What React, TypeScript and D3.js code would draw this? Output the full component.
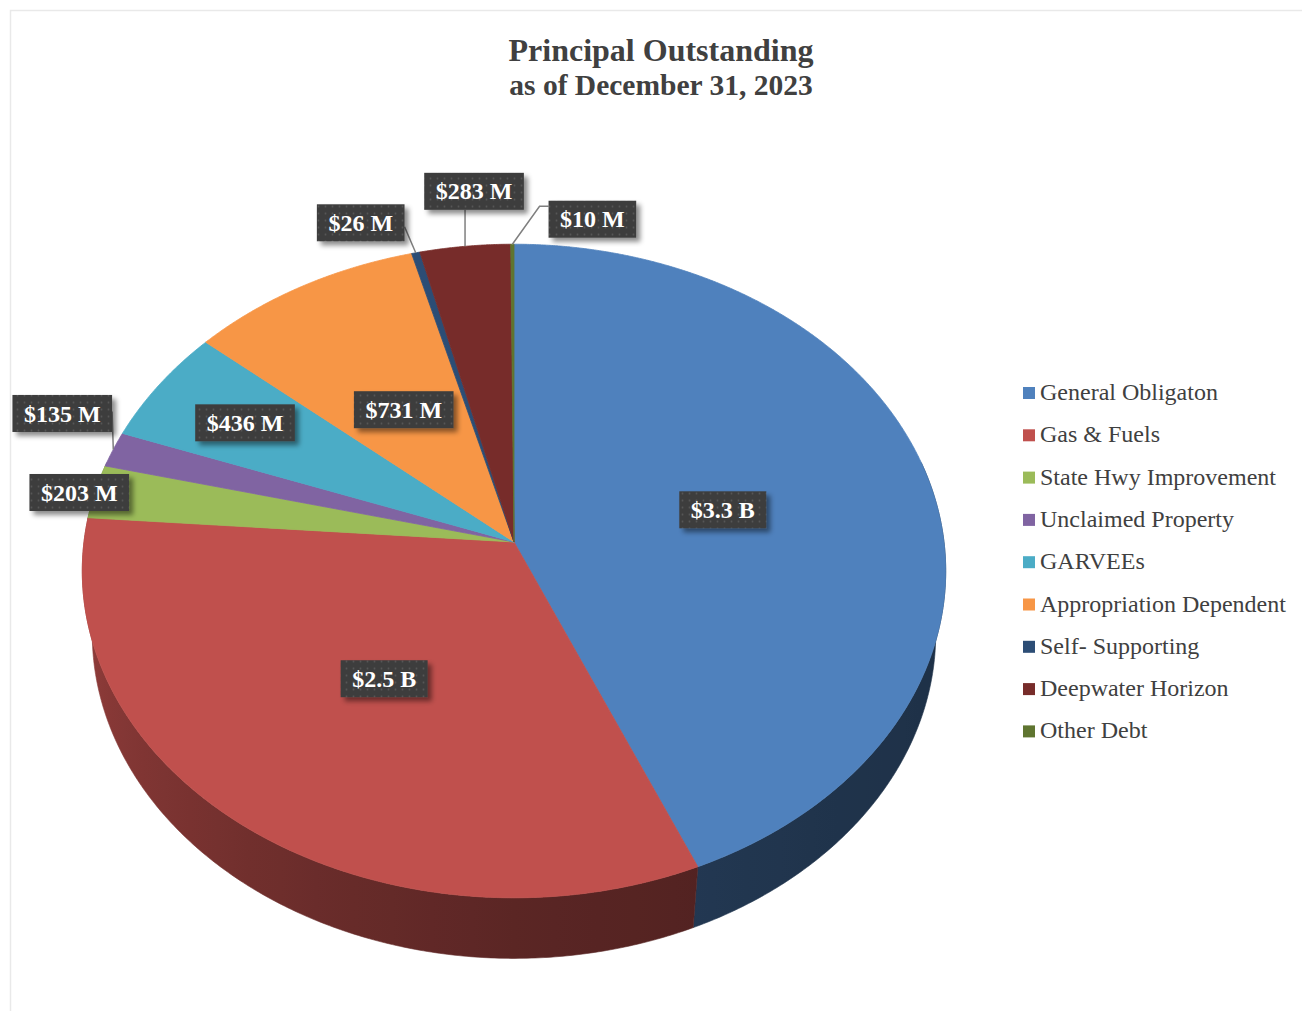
import React, { useEffect, useRef } from 'react';
import * as d3 from 'd3';

const categories = [
  'General Obligaton',
  'Gas & Fuels',
  'State Hwy Improvement',
  'Unclaimed Property',
  'GARVEEs',
  'Appropriation Dependent',
  'Self- Supporting',
  'Deepwater Horizon',
  'Other Debt',
];
// principal outstanding, $ millions
const amounts = [3340, 2500, 203, 135, 436, 731, 26, 283, 10];
const amountLabels = ['$3.3 B', '$2.5 B', '$203 M', '$135 M', '$436 M', '$731 M', '$26 M', '$283 M', '$10 M'];
const colors = ['#4F81BD', '#C0504D', '#9BBB59', '#8064A2', '#4BACC6', '#F79646', '#2C4D75', '#772C2A', '#5F7530'];
const titleLines = ['Principal Outstanding', 'as of December 31, 2023'];

// where each data label goes: inside ones at a fraction of the radius,
// outside ones offset from the rim point with a leader line
const labelPlacement: any[] = [
  { r: 0.5 },
  { r: 0.5 },
  { dx: -16, dy: 1 },
  { dx: -51, dy: -36, side: 'right', ay: -2, elbow: 0 },
  { r: 0.75 },
  { r: 0.5 },
  { dx: -55, dy: -30, side: 'right', ay: 4, elbow: 0 },
  { dx: 9, dy: -55, side: 'bottom' },
  { dx: 80, dy: -25, side: 'left', ay: -13, elbow: 9 },
];

const W = 1302, H = 1011;
const FONT = '"Liberation Serif", "Times New Roman", serif';

// 3d pie: perspective projection of a tilted disc
const cx = 514, cy = 542;
const focal = 3182, dist = 7.4, elev = Math.asin(0.754), thick = 0.23;

function project(theta: number, r: number, z: number): [number, number] {
  const u = r * Math.sin(theta), w = r * Math.cos(theta);
  const yc = w * Math.sin(elev) + z * Math.cos(elev);
  const zc = dist + w * Math.cos(elev) - z * Math.sin(elev);
  return [cx + (focal * u) / zc, cy - (focal * yc) / zc];
}

export default function App() {
  const ref = useRef<SVGSVGElement>(null);

  useEffect(() => {
    const svg = d3.select(ref.current);
    svg.selectAll('*').remove();

    const defs = svg.append('defs');
    const pat = defs.append('pattern').attr('id', 'dots').attr('width', 7).attr('height', 7)
      .attr('patternUnits', 'userSpaceOnUse');
    pat.append('rect').attr('width', 7).attr('height', 7).attr('fill', '#3d3d3d');
    pat.append('circle').attr('cx', 3.5).attr('cy', 3.5).attr('r', 0.9).attr('fill', '#565656');
    const filt = defs.append('filter').attr('id', 'shadow').attr('x', '-20%').attr('y', '-30%')
      .attr('width', '150%').attr('height', '180%');
    filt.append('feDropShadow').attr('dx', 4).attr('dy', 4).attr('stdDeviation', 2.5)
      .attr('flood-color', '#000').attr('flood-opacity', 0.45);

    // chart area border (left and top edges visible)
    svg.append('path').attr('d', `M10.5,${H} V10.5 H${W}`)
      .attr('fill', 'none').attr('stroke', '#e9e9e9').attr('stroke-width', 1.5);

    // title
    svg.append('g').selectAll('text').data(titleLines).join('text')
      .attr('x', 661).attr('y', (d, i) => 61 + i * 34)
      .attr('text-anchor', 'middle')
      .style('font-family', FONT).style('font-weight', 'bold')
      .style('font-size', (d, i) => (i === 0 ? '32px' : '29.5px'))
      .attr('fill', '#404040').text(d => d);

    const pie = d3.pie<number>().sort(null).value(d => d);
    const arcs = pie(amounts);

    // side walls: one path per slice, shaded with a horizontal gradient by facing angle
    const shade = d3.scaleLinear().domain([90, 135, 180, 225, 270]).range([2.8, 2.6, 2.1, 1.3, 0.6]).clamp(true);
    const front0 = Math.acos(0.25), front1 = 2 * Math.PI - front0;
    const xLeft = project(1.5 * Math.PI, 1, 0)[0], xRight = project(0.5 * Math.PI, 1, 0)[0];
    const walls = svg.append('g');
    arcs.forEach((a, i) => {
      const s = Math.max(a.startAngle, front0), e = Math.min(a.endAngle, front1);
      if (e <= s) return;
      const grad = defs.append('linearGradient').attr('id', `wall${i}`)
        .attr('gradientUnits', 'userSpaceOnUse')
        .attr('x1', xLeft).attr('x2', xRight).attr('y1', 0).attr('y2', 0);
      d3.range(270, 89, -5).forEach(deg => {
        const x = project((deg * Math.PI) / 180, 1, 0)[0];
        grad.append('stop').attr('offset', (x - xLeft) / (xRight - xLeft))
          .attr('stop-color', d3.color(colors[i])!.darker(shade(deg)).formatHex());
      });
      const n = Math.max(2, Math.ceil((e - s) / (Math.PI / 360)));
      const ts = d3.range(n + 1).map(k => s + ((e - s) * k) / n);
      const pts = [...ts.map(t => project(t, 1, 0)), ...ts.slice().reverse().map(t => project(t, 1, -thick))];
      walls.append('path').attr('d', 'M' + pts.map(p => p.join(',')).join('L') + 'Z')
        .attr('fill', `url(#wall${i})`).attr('stroke', `url(#wall${i})`).attr('stroke-width', 0.6);
    });

    // top faces
    const tops = svg.append('g');
    arcs.forEach((a, i) => {
      const n = Math.max(2, Math.ceil((a.endAngle - a.startAngle) / (Math.PI / 720)));
      const rim = d3.range(n + 1).map(k => project(a.startAngle + ((a.endAngle - a.startAngle) * k) / n, 1, 0));
      const apex = project(0, 0, 0);
      tops.append('path').attr('d', 'M' + [apex, ...rim].map(p => p.join(',')).join('L') + 'Z')
        .attr('fill', colors[i]).attr('stroke', colors[i]).attr('stroke-width', 0.8)
        .attr('stroke-linejoin', 'round');
    });

    // data labels
    const labels = svg.append('g');
    const bh = 37;
    arcs.forEach((a, i) => {
      const mid = (a.startAngle + a.endAngle) / 2;
      const p = labelPlacement[i];
      let bx: number, by: number;
      let anchor: [number, number] | null = null;
      if (p.r !== undefined) {
        [bx, by] = project(mid, p.r, 0);
      } else {
        anchor = project(mid, 1, 0);
        bx = anchor[0] + p.dx;
        by = anchor[1] + p.dy;
      }
      const lg = labels.append('g');
      const leader = lg.append('path');
      const box = lg.append('rect');
      const t = lg.append('text').attr('x', bx).attr('y', by).attr('dy', '0.34em')
        .attr('text-anchor', 'middle')
        .style('font-family', FONT).style('font-weight', 'bold').style('font-size', '24px')
        .attr('fill', '#ffffff').text(amountLabels[i]);
      const tw = (t.node() as SVGTextElement).getComputedTextLength();
      const bw = tw + 23;
      box.attr('x', bx - bw / 2).attr('y', by - bh / 2).attr('width', bw).attr('height', bh)
        .attr('fill', 'url(#dots)').attr('filter', 'url(#shadow)');
      if (anchor && p.side) {
        let pts: [number, number][] = [];
        if (p.side === 'bottom') {
          pts = [[anchor[0], by + bh / 2], anchor];
        } else {
          const sx = p.side === 'right' ? bx + bw / 2 : bx - bw / 2;
          const dir = p.side === 'right' ? 1 : -1;
          const sy = by + p.ay;
          pts = [[sx, sy], [sx + dir * p.elbow, sy], anchor];
        }
        leader.attr('d', 'M' + pts.map(q => q.join(',')).join('L'))
          .attr('fill', 'none').attr('stroke', '#7f7f7f').attr('stroke-width', 1.5);
      } else {
        leader.remove();
      }
    });

    // legend
    const legend = svg.append('g').attr('transform', 'translate(1023,400)');
    const rows = legend.selectAll('g').data(categories).join('g')
      .attr('transform', (d, i) => `translate(0,${i * 42.3})`);
    rows.append('rect').attr('x', 0).attr('y', -13).attr('width', 12).attr('height', 12)
      .attr('fill', (d, i) => colors[i]);
    rows.append('text').attr('x', 17).attr('y', 0)
      .style('font-family', FONT).style('font-size', '24px').attr('fill', '#404040')
      .text(d => d);
  }, []);

  return (
    <div style={{ position: 'absolute', left: 0, top: 0 }}>
      <svg ref={ref} width={W} height={H} style={{ display: 'block', background: '#ffffff' }} />
    </div>
  );
}
